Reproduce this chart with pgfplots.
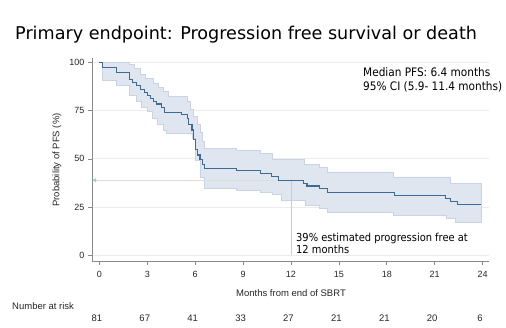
\documentclass[border=0pt]{standalone}
\usepackage{fontspec}
\setmainfont{Liberation Sans}
\newfontfamily\tah{DejaVu Sans Condensed}
\newfontfamily\verd{DejaVu Sans}
\usepackage{pgfplots}
\pgfplotsset{compat=1.18}
\usetikzlibrary{arrows.meta}
\definecolor{kmline}{HTML}{3F6A93}
\definecolor{band}{HTML}{E0E6F0}
\definecolor{bandedge}{HTML}{C9D3E5}
\definecolor{axgray}{HTML}{8A8A8A}
\definecolor{gridc}{HTML}{ECECEC}
\definecolor{arrowc}{HTML}{A9C2CC}
\begin{document}
\begin{tikzpicture}
\useasboundingbox (0pt,0pt) rectangle (506pt,327pt);
\node[anchor=base west, font=\verd\fontsize{17.6}{19}\selectfont, inner sep=0] at (15pt,287pt) {Primary endpoint: Progression free survival or death};
\begin{axis}[at={(92pt,66pt)}, anchor=south west, scale only axis, width=397pt, height=203pt,
  xmin=-0.46, xmax=24.4, ymin=-3.1, ymax=102.4,
  axis lines*=left, axis line style={axgray, line width=0.6pt},
  tick align=outside, major tick length=4pt, tick style={axgray, line width=0.6pt},
  xtick={0,3,...,24}, ytick={0,25,50,75,100},
  ymajorgrids, grid style={gridc, line width=0.8pt},
  tick label style={font=\fontsize{9}{10}\selectfont, text=black!85},
  xticklabel style={yshift=-3pt},
  /pgf/number format/assume math mode=true,
  clip=false]
\addplot[fill=band, draw=bandedge, line width=0.5pt] table {
0 100
1.9 100
1.9 99
2.2 99
2.2 97
2.55 97
2.55 94
2.9 94
2.9 92
3.4 92
3.4 89.5
3.7 89.5
3.7 87
4.0 87
4.0 85
4.3 85
4.3 82.3
5.5 82.3
5.5 80
5.7 80
5.7 76
5.9 76
5.9 72
6.1 72
6.1 68
6.3 68
6.3 64
6.45 64
6.45 59
6.6 59
6.6 55.4
8.6 55.4
8.6 54.5
10.1 54.5
10.1 52.8
10.8 52.8
10.8 49.7
12.8 49.7
12.8 47.2
13.8 47.2
13.8 45.5
14.3 45.5
14.3 43.2
18.4 43.2
18.4 40.6
22.0 40.6
22.0 37.2
23.9 37.2
23.9 17.2
22.3 17.2
22.3 19
21.7 19
21.7 20.7
18.4 20.7
18.4 22.4
14.3 22.4
14.3 24.1
13.8 24.1
13.8 25.9
12.9 25.9
12.9 28.5
11.4 28.5
11.4 31.6
10.8 31.6
10.8 32.5
10.1 32.5
10.1 33.5
8.6 33.5
8.6 34.6
6.6 34.6
6.6 40.6
6.3 40.6
6.3 49.3
6.0 49.3
6.0 60.6
5.8 60.6
5.8 63.5
4.2 63.5
4.2 65
4.0 65
4.0 68
3.6 68
3.6 71
3.3 71
3.3 74.5
3.0 74.5
3.0 77
2.6 77
2.6 80
2.3 80
2.3 83
1.9 83
1.9 88
1.05 88
1.05 91
0.2 91
0.2 100
0 100
};
\draw[gridc!70!gray, line width=0.5pt] (axis cs:12,0) -- (axis cs:12,38.9);
\draw[gridc!85!gray, line width=0.6pt, -{Latex[length=4pt,width=4pt,color=arrowc]}] (axis cs:11.2,38.9) -- (axis cs:-0.46,38.9);
\addplot[const plot, kmline, line width=1.1pt] table {
0 100
0.2 97.6
1.05 94.8
1.9 91.3
2.1 89.5
2.35 88
2.6 86
2.8 84.5
3.0 83
3.2 81.5
3.4 80
3.6 78.5
3.9 76.5
4.1 74.2
5.15 73
5.5 71
5.6 68
5.8 65
5.9 60
6.0 55
6.15 52
6.3 49.5
6.45 47
6.6 45.2
8.6 44.1
10.1 42.4
10.8 41
11.2 38.9
12.8 37.2
13.0 35.9
13.8 34.6
14.3 32.6
18.5 31.1
21.7 29.4
22.0 28
22.4 26.2
23.9 26.2
};
\end{axis}
\node[anchor=base west, font=\tah\fontsize{11.7}{13}\selectfont, inner sep=0] at (363pt,250pt) {Median PFS: 6.4 months};
\node[anchor=base west, font=\tah\fontsize{11.7}{13}\selectfont, inner sep=0] at (363pt,236pt) {95\% CI (5.9- 11.4 months)};
\node[anchor=base west, font=\tah\fontsize{11}{12}\selectfont, inner sep=0] at (296pt,86pt) {39\% estimated progression free at};
\node[anchor=base west, font=\tah\fontsize{11}{12}\selectfont, inner sep=0] at (296pt,74pt) {12 months};
\node[rotate=90, font=\fontsize{9.5}{11}\selectfont, text=black!85] at (57pt,167pt) {Probability of PFS (\%)};
\node[font=\fontsize{9.5}{11}\selectfont, text=black!85] at (291pt,34pt) {Months from end of SBRT};
\node[anchor=west, font=\fontsize{9.5}{11}\selectfont, text=black!85, inner sep=0] at (12pt,21pt) {Number at risk};
\foreach \t/\n in {0/81,3/67,6/41,9/33,12/27,15/21,18/21,21/20,24/6}{
  \node[font=\fontsize{9.5}{11}\selectfont, text=black!85] at ({(99.35+15.97*\t-2.5)*1pt},9pt) {\n};
}
\end{tikzpicture}
\end{document}
